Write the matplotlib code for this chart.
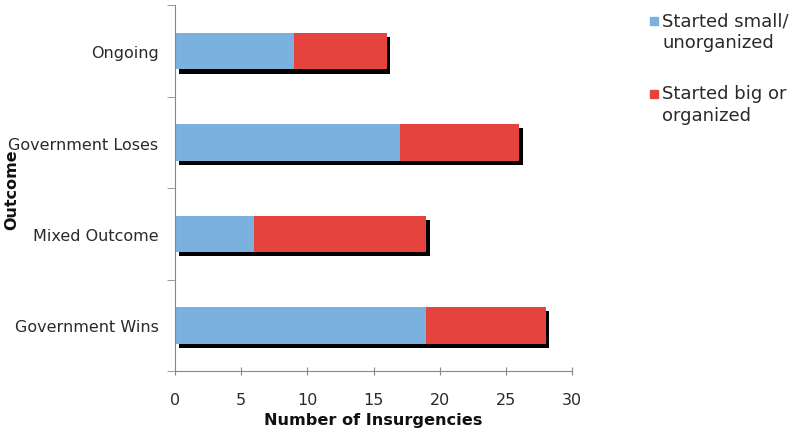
import numpy as np
import matplotlib.pyplot as plt
import matplotlib.patheffects as pe
from matplotlib.patches import Rectangle

outcomes = ['Government Wins', 'Mixed Outcome', 'Government Loses', 'Ongoing']
small_unorg = [19, 6, 17, 9]
big_org = [9, 13, 9, 7]
legend_labels = ['Started small/\nunorganized', 'Started big or\norganized']

blue = '#7ab1df'
red = '#e4433e'
txt = '#2a2a2a'
shadow = [pe.SimplePatchShadow(offset=(2.5, -3), shadow_rgbFace='k', alpha=1), pe.Normal()]

fig = plt.figure(figsize=(7.96, 4.31), dpi=100)
ax = fig.add_axes([0.22, 0.137, 0.4986, 0.848])

y = np.arange(len(outcomes))
ax.barh(y, small_unorg, height=0.4, color=blue, path_effects=shadow, zorder=2)
ax.barh(y, big_org, left=small_unorg, height=0.4, color=red, path_effects=shadow, zorder=3)

ax.set_xlim(0, 30)
ax.set_ylim(-0.5, 3.5)
ax.set_xticks(range(0, 31, 5))
ax.set_yticks(y)
ax.set_yticklabels(outcomes)
ax.set_yticks(np.arange(-0.5, 4, 1), minor=True)
ax.tick_params(axis='y', which='major', length=0, pad=12, labelsize=11.5, labelcolor=txt)
ax.tick_params(axis='y', which='minor', length=6, color='#888888')
ax.tick_params(axis='x', direction='inout', length=6, color='#888888', labelsize=11.5,
               labelcolor=txt, pad=12.5)

for s in ['top', 'right']:
    ax.spines[s].set_visible(False)
for s in ['left', 'bottom']:
    ax.spines[s].set_color('#888888')

ax.set_xlabel('Number of Insurgencies', fontweight='bold', fontsize=11.6, labelpad=3, color='#111111')
ax.yaxis.set_label_coords(-0.393, 0.49)
ax.set_ylabel('Outcome', fontweight='bold', fontsize=11.5, color='#111111')

# legend drawn by hand so the swatch sits on the first line
for i, (lab, col) in enumerate(zip(legend_labels, [blue, red])):
    top = 431 - 12 - i * 73
    fig.add_artist(Rectangle((650 / 796, (top - 14) / 431), 8 / 796, 8 / 431,
                             color=col, transform=fig.transFigure))
    fig.text(662 / 796, top / 431, lab, fontsize=13, color=txt, va='top', ha='left',
             linespacing=1.27)

fig.savefig('out.png', dpi=100)
